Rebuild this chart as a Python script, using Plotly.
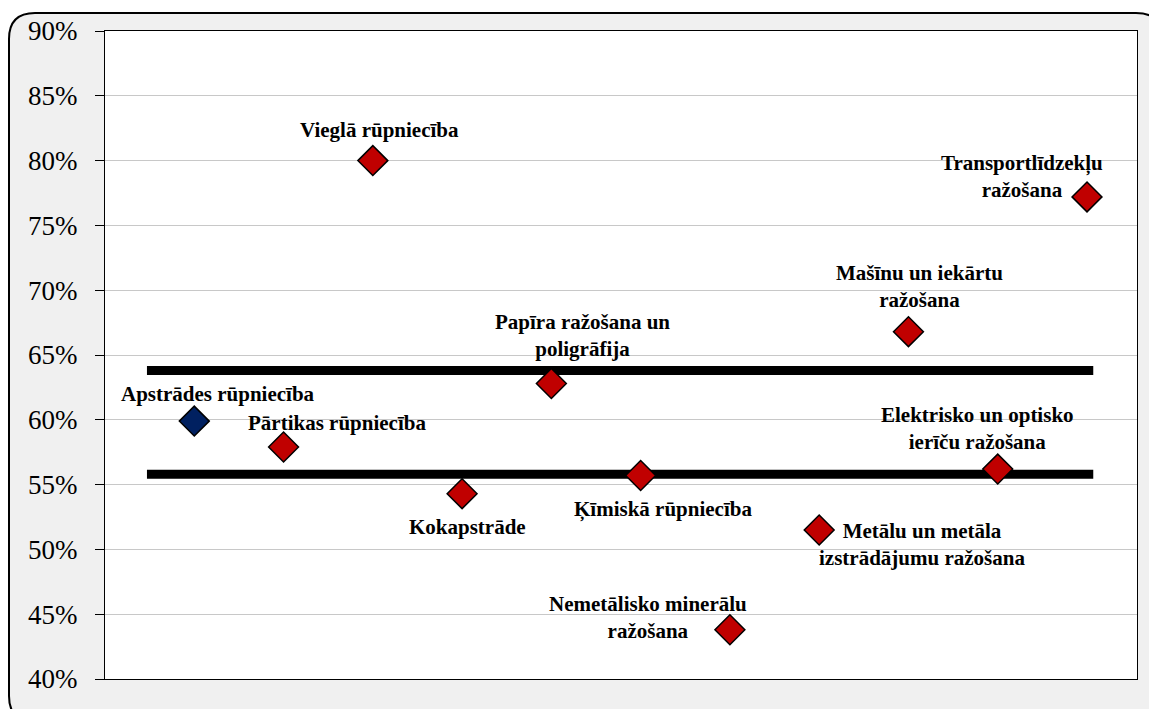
import plotly.graph_objects as go

# Nozares un to vērtības (%)
categories = [
    "Apstrādes rūpniecība",
    "Pārtikas rūpniecība",
    "Vieglā rūpniecība",
    "Kokapstrāde",
    "Papīra ražošana un<br>poligrāfija",
    "Ķīmiskā rūpniecība",
    "Nemetālisko minerālu<br>ražošana",
    "Metālu un metāla<br>izstrādājumu ražošana",
    "Mašīnu un iekārtu<br>ražošana",
    "Elektrisko un optisko<br>ierīču ražošana",
    "Transportlīdzekļu<br>ražošana",
]
values = [59.9, 57.9, 80.0, 54.3, 62.8, 55.7, 43.8, 51.5, 66.8, 56.2, 77.2]
upper_band = 63.8
lower_band = 55.8

x_pos = list(range(1, len(categories) + 1))
colors = ["#002060"] + ["#c00000"] * (len(categories) - 1)

# label offsets in pixels (dx, dy)
label_shifts = [(24, 27), (53, 24), (7, 31), (5, -33), (31, 48), (22, -34),
                (-82, 12), (103, -15), (11, 45), (-20, 41), (-65, 20)]

W, H = 1149, 709
ML, MR, MT, MB = 105, 12, 31, 30
SERIF = "Liberation Serif, Times New Roman, serif"


def px_to_paper(X, Y):
    return (X - ML) / (W - ML - MR), (H - MB - Y) / (H - MT - MB)


fig = go.Figure()

for yv in [upper_band, lower_band]:
    fig.add_trace(go.Scatter(
        x=[0.47, 11.07], y=[yv, yv], mode="lines",
        line=dict(color="black", width=9),
        hoverinfo="skip", showlegend=False,
    ))

fig.add_trace(go.Scatter(
    x=x_pos, y=values, mode="markers",
    marker=dict(symbol="diamond", size=23, color=colors,
                line=dict(color="black", width=1.5)),
    text=categories, showlegend=False,
))

for xv, yv, name, (dx, dy) in zip(x_pos, values, categories, label_shifts):
    fig.add_annotation(
        x=xv, y=yv, text=name, showarrow=False,
        xshift=dx, yshift=dy, align="center",
        font=dict(family=SERIF, size=21, color="black", weight="bold"),
    )

# outer rounded frame
r = 26
x0, y0 = px_to_paper(9, 13)
x1, y1 = px_to_paper(1162, 722)
rx, ry = px_to_paper(9 + r, 13 + r)
rx = rx - x0
ry = y0 - ry
path = (f"M {x0 + rx},{y0} L {x1 - rx},{y0} Q {x1},{y0} {x1},{y0 - ry} "
        f"L {x1},{y1 + ry} Q {x1},{y1} {x1 - rx},{y1} "
        f"L {x0 + rx},{y1} Q {x0},{y1} {x0},{y1 + ry} "
        f"L {x0},{y0 - ry} Q {x0},{y0} {x0 + rx},{y0} Z")
fig.add_shape(type="path", path=path, xref="paper", yref="paper",
              fillcolor="#f0f0f0", line=dict(color="black", width=2), layer="below")
fig.add_shape(type="rect", x0=0, x1=1, y0=0, y1=1, xref="paper", yref="paper",
              fillcolor="white", line=dict(width=0), layer="below")

fig.update_layout(
    width=W, height=H,
    margin=dict(l=ML, r=MR, t=MT, b=MB),
    paper_bgcolor="white",
    plot_bgcolor="rgba(0,0,0,0)",
    font=dict(family=SERIF, color="black"),
)
fig.update_xaxes(range=[0, 11.56], showticklabels=False, showgrid=False,
                 zeroline=False, showline=True, linecolor="black", linewidth=1,
                 mirror=True)
fig.update_yaxes(range=[40, 90], dtick=5, ticksuffix="%",
                 tickfont=dict(family=SERIF, size=27, color="black"),
                 showgrid=True, gridcolor="#c8c8c8", gridwidth=1,
                 zeroline=False, showline=True, linecolor="black", linewidth=1,
                 mirror=True, ticks="outside", ticklen=9, tickcolor="black",
                 ticklabelstandoff=12)

fig.write_html("out.html", config={"displayModeBar": False},
               post_script="document.body.style.margin='0';")
